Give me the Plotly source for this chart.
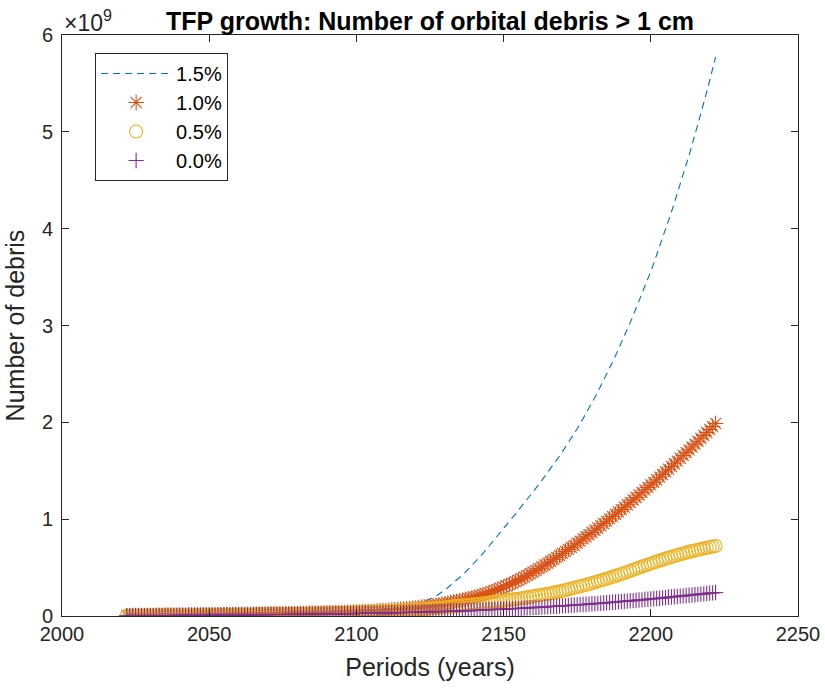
import plotly.graph_objects as go

years = list(range(2022, 2223))

# values in units of 1e9
debris_15 = [
    0.003,0.003,0.004,0.004,0.004,0.004,0.005,0.005,0.005,0.005,
    0.006,0.006,0.006,0.006,0.007,0.007,0.007,0.008,0.008,0.008,
    0.008,0.009,0.009,0.009,0.010,0.010,0.010,0.011,0.011,0.011,
    0.012,0.012,0.013,0.013,0.013,0.014,0.014,0.015,0.015,0.016,
    0.016,0.016,0.017,0.017,0.018,0.018,0.019,0.019,0.020,0.020,
    0.021,0.021,0.022,0.022,0.023,0.024,0.024,0.025,0.025,0.026,
    0.027,0.027,0.028,0.029,0.029,0.030,0.031,0.032,0.033,0.034,
    0.035,0.036,0.037,0.038,0.039,0.040,0.041,0.042,0.044,0.045,
    0.047,0.049,0.051,0.053,0.056,0.059,0.062,0.065,0.069,0.073,
    0.077,0.082,0.087,0.092,0.098,0.104,0.111,0.118,0.125,0.131,
    0.140,0.150,0.161,0.173,0.188,0.205,0.224,0.245,0.268,0.292,
    0.317,0.342,0.368,0.395,0.423,0.452,0.482,0.513,0.545,0.578,
    0.612,0.647,0.683,0.719,0.756,0.793,0.830,0.868,0.906,0.944,
    0.980,1.017,1.053,1.091,1.128,1.166,1.204,1.243,1.281,1.321,
    1.360,1.401,1.441,1.483,1.524,1.567,1.609,1.653,1.697,1.742,
    1.788,1.835,1.884,1.934,1.985,2.037,2.090,2.144,2.200,2.257,
    2.315,2.374,2.434,2.495,2.558,2.622,2.687,2.753,2.820,2.889,
    2.959,3.030,3.102,3.175,3.249,3.325,3.402,3.480,3.559,3.642,
    3.727,3.813,3.900,3.989,4.080,4.172,4.266,4.360,4.457,4.555,
    4.656,4.758,4.862,4.967,5.075,5.185,5.298,5.412,5.530,5.649,
    5.771,
]

debris_10 = [
    0.003,0.003,0.004,0.004,0.004,0.004,0.005,0.005,0.005,0.005,
    0.006,0.006,0.006,0.006,0.007,0.007,0.007,0.007,0.008,0.008,
    0.008,0.009,0.009,0.009,0.009,0.010,0.010,0.010,0.011,0.011,
    0.011,0.012,0.012,0.012,0.013,0.013,0.014,0.014,0.014,0.015,
    0.015,0.016,0.016,0.017,0.017,0.017,0.018,0.018,0.019,0.019,
    0.020,0.020,0.021,0.021,0.022,0.022,0.023,0.023,0.024,0.025,
    0.025,0.026,0.027,0.027,0.028,0.029,0.029,0.030,0.031,0.032,
    0.033,0.033,0.034,0.035,0.036,0.037,0.038,0.039,0.040,0.041,
    0.043,0.044,0.046,0.047,0.049,0.051,0.053,0.055,0.057,0.059,
    0.061,0.063,0.066,0.068,0.071,0.074,0.077,0.080,0.083,0.086,
    0.090,0.094,0.098,0.102,0.106,0.111,0.116,0.121,0.126,0.132,
    0.138,0.144,0.150,0.157,0.164,0.171,0.178,0.186,0.194,0.202,
    0.211,0.220,0.230,0.240,0.251,0.262,0.274,0.286,0.299,0.312,
    0.326,0.340,0.355,0.370,0.386,0.402,0.419,0.436,0.453,0.471,
    0.489,0.508,0.527,0.546,0.565,0.585,0.605,0.625,0.646,0.667,
    0.688,0.709,0.730,0.752,0.774,0.796,0.818,0.840,0.863,0.886,
    0.909,0.932,0.955,0.979,1.003,1.027,1.051,1.075,1.099,1.124,
    1.149,1.174,1.199,1.224,1.250,1.276,1.302,1.328,1.354,1.380,
    1.407,1.434,1.461,1.488,1.516,1.544,1.572,1.600,1.629,1.658,
    1.687,1.716,1.745,1.775,1.805,1.835,1.865,1.895,1.926,1.957,
    1.988,
]

debris_05 = [
    0.003,0.003,0.003,0.004,0.004,0.004,0.004,0.005,0.005,0.005,
    0.005,0.006,0.006,0.006,0.006,0.007,0.007,0.007,0.007,0.008,
    0.008,0.008,0.008,0.009,0.009,0.009,0.010,0.010,0.010,0.011,
    0.011,0.011,0.012,0.012,0.012,0.013,0.013,0.013,0.014,0.014,
    0.015,0.015,0.015,0.016,0.016,0.017,0.017,0.017,0.018,0.018,
    0.019,0.019,0.020,0.020,0.021,0.021,0.022,0.022,0.023,0.023,
    0.024,0.024,0.025,0.026,0.026,0.027,0.027,0.028,0.029,0.029,
    0.030,0.031,0.032,0.032,0.033,0.034,0.035,0.036,0.037,0.038,
    0.039,0.040,0.041,0.042,0.043,0.044,0.046,0.047,0.048,0.050,
    0.051,0.053,0.054,0.056,0.058,0.060,0.062,0.064,0.066,0.068,
    0.070,0.072,0.074,0.077,0.079,0.082,0.084,0.087,0.090,0.093,
    0.096,0.099,0.102,0.105,0.108,0.111,0.114,0.117,0.120,0.124,
    0.127,0.131,0.134,0.138,0.142,0.146,0.150,0.154,0.158,0.162,
    0.166,0.170,0.174,0.178,0.183,0.188,0.193,0.198,0.203,0.209,
    0.214,0.219,0.224,0.229,0.235,0.241,0.247,0.254,0.261,0.268,
    0.275,0.283,0.291,0.299,0.307,0.315,0.323,0.331,0.340,0.349,
    0.358,0.367,0.376,0.385,0.394,0.404,0.414,0.424,0.434,0.444,
    0.455,0.466,0.477,0.488,0.499,0.510,0.521,0.532,0.542,0.552,
    0.562,0.572,0.582,0.592,0.602,0.611,0.620,0.629,0.638,0.646,
    0.654,0.662,0.670,0.677,0.684,0.691,0.698,0.705,0.711,0.717,
    0.723,
]

debris_00 = [
    0.002,0.002,0.002,0.003,0.003,0.003,0.003,0.003,0.004,0.004,
    0.004,0.004,0.004,0.005,0.005,0.005,0.005,0.006,0.006,0.006,
    0.006,0.007,0.007,0.007,0.007,0.008,0.008,0.008,0.008,0.009,
    0.009,0.009,0.009,0.010,0.010,0.010,0.011,0.011,0.011,0.011,
    0.012,0.012,0.012,0.013,0.013,0.013,0.014,0.014,0.014,0.015,
    0.015,0.015,0.016,0.016,0.016,0.017,0.017,0.017,0.018,0.018,
    0.018,0.019,0.019,0.020,0.020,0.020,0.021,0.021,0.022,0.022,
    0.022,0.023,0.023,0.024,0.024,0.025,0.025,0.026,0.026,0.027,
    0.027,0.028,0.028,0.029,0.029,0.030,0.030,0.031,0.032,0.032,
    0.033,0.034,0.034,0.035,0.036,0.036,0.037,0.038,0.038,0.039,
    0.040,0.041,0.042,0.042,0.043,0.044,0.045,0.046,0.047,0.048,
    0.049,0.050,0.051,0.052,0.053,0.054,0.055,0.056,0.058,0.059,
    0.060,0.061,0.063,0.064,0.065,0.067,0.068,0.070,0.071,0.073,
    0.074,0.076,0.077,0.079,0.080,0.082,0.084,0.085,0.087,0.089,
    0.090,0.092,0.094,0.096,0.098,0.099,0.101,0.103,0.105,0.107,
    0.109,0.111,0.113,0.115,0.117,0.119,0.121,0.123,0.126,0.128,
    0.130,0.132,0.135,0.137,0.139,0.142,0.144,0.147,0.149,0.152,
    0.154,0.157,0.159,0.162,0.165,0.167,0.170,0.173,0.176,0.178,
    0.181,0.184,0.187,0.190,0.193,0.196,0.199,0.202,0.205,0.208,
    0.211,0.214,0.217,0.220,0.223,0.226,0.229,0.232,0.236,0.239,
    0.242,
]

x_ticks = [2000, 2050, 2100, 2150, 2200, 2250]
y_ticks = [0, 1, 2, 3, 4, 5, 6]
scale = 1e9

FONT = "Liberation Sans, Arial, Helvetica, sans-serif"
AX = "#262626"

fig = go.Figure()
fig.add_trace(go.Scatter(
    x=years, y=[v * scale for v in debris_15], name="1.5%", mode="lines",
    line=dict(color="#0072BD", width=1.1, dash="7px,5px")))
fig.add_trace(go.Scatter(
    x=years, y=[v * scale for v in debris_10], name="1.0%", mode="markers",
    marker=dict(symbol="asterisk-open", size=13, color="#D95319",
                line=dict(color="#D95319", width=1.1))))
fig.add_trace(go.Scatter(
    x=years, y=[v * scale for v in debris_05], name="0.5%", mode="markers",
    marker=dict(symbol="circle-open", size=13, color="#EDB120",
                line=dict(color="#EDB120", width=1.1))))
fig.add_trace(go.Scatter(
    x=years, y=[v * scale for v in debris_00], name="0.0%", mode="markers",
    marker=dict(symbol="cross-thin-open", size=11, color="#7E2F8E",
                line=dict(color="#7E2F8E", width=1.1))))

fig.update_layout(
    width=825, height=689,
    margin=dict(l=62, r=27, t=35, b=73),
    paper_bgcolor="white", plot_bgcolor="white",
    font=dict(family=FONT, size=20, color=AX),
    title=dict(text="<b>TFP growth: Number of orbital debris > 1 cm</b>",
               x=0.5, xref="paper", y=1, yref="paper", yanchor="bottom",
               pad=dict(b=5), font=dict(size=25, color="black")),
    showlegend=True,
    legend=dict(x=0.045, y=0.969, xanchor="left", yanchor="top",
                bgcolor="white", bordercolor=AX, borderwidth=1,
                font=dict(size=20, color="black"), itemwidth=70,
                traceorder="normal"),
    xaxis=dict(range=[2000, 2250], tickvals=x_ticks,
               ticktext=[str(t) for t in x_ticks],
               ticks="inside", ticklen=7, tickcolor=AX, tickwidth=1,
               showline=True, linecolor=AX, linewidth=1, mirror="allticks",
               showgrid=False, zeroline=False, automargin=False,
               title=dict(text="Periods (years)", font=dict(size=25), standoff=14)),
    yaxis=dict(range=[0, 6e9], tickvals=[t * scale for t in y_ticks],
               ticktext=[str(t) for t in y_ticks],
               ticks="inside", ticklen=7, tickcolor=AX, tickwidth=1,
               ticklabelstandoff=4, automargin=False,
               showline=True, linecolor=AX, linewidth=1, mirror="allticks",
               showgrid=False, zeroline=False,
               title=dict(text="Number of debris", font=dict(size=25), standoff=10)),
)
fig.add_annotation(x=0, y=1, xref="paper", yref="paper", xanchor="left",
                   yanchor="bottom", text="×10<sup>9</sup>", showarrow=False,
                   font=dict(size=23, color=AX), yshift=-3)

fig.write_html("out.html")
